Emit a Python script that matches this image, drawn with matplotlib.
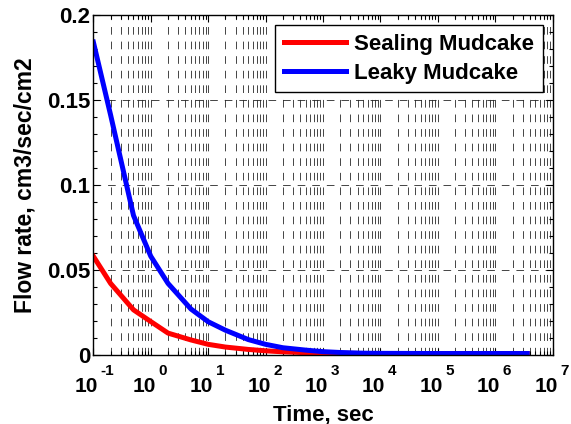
import math
import matplotlib
matplotlib.use("Agg")
import matplotlib.pyplot as plt
from matplotlib.ticker import FixedLocator, LogLocator, MultipleLocator, NullFormatter

plt.rcParams['font.family'] = ['Liberation Sans', 'DejaVu Sans']
plt.rcParams['font.weight'] = 'bold'
plt.rcParams['lines.scale_dashes'] = False

# time in seconds
time_s = [0.1, 0.2, 0.5, 1, 2, 5, 10, 20, 50, 100, 200, 500, 1000, 2000,
          5000, 1e4, 1e5, 1e6, 3.6e6]
sealing = [0.058, 0.042, 0.0265, 0.0196, 0.0128, 0.0088, 0.0062, 0.0046,
           0.0032, 0.0024, 0.0018, 0.0013, 0.0011, 0.0009, 0.0008, 0.0008,
           0.0008, 0.0008, 0.0008]
leaky = [0.184, 0.141, 0.082, 0.058, 0.042, 0.027, 0.0195, 0.0145, 0.009,
         0.0062, 0.0042, 0.0028, 0.0019, 0.0014, 0.0010, 0.0009, 0.0008,
         0.0008, 0.0008]
labels = ["Sealing Mudcake", "Leaky Mudcake"]
x_ticks = [1e-1, 1e0, 1e1, 1e2, 1e3, 1e4, 1e5, 1e6, 1e7]
y_ticks = [0, 0.05, 0.1, 0.15, 0.2]
y_labels = ["0", "0.05", "0.1", "0.15", "0.2"]

fig = plt.figure(figsize=(5.71, 4.24), dpi=100)
ax = fig.add_axes([0.1635, 0.163, 0.8045, 0.802])

ax.plot(time_s, sealing, color="red", lw=3.6, label=labels[0])
ax.plot(time_s, leaky, color="blue", lw=3.6, label=labels[1])

ax.set_xscale("log")
ax.set_xlim(0.1, 1e7)
ax.set_ylim(0, 0.2)

ax.xaxis.set_major_locator(FixedLocator(x_ticks))
ax.xaxis.set_minor_locator(LogLocator(base=10, subs=range(2, 10), numticks=200))
ax.xaxis.set_major_formatter(NullFormatter())
ax.xaxis.set_minor_formatter(NullFormatter())
ax.yaxis.set_major_locator(FixedLocator(y_ticks))
ax.set_yticklabels(y_labels)
ax.yaxis.set_minor_locator(MultipleLocator(0.01))

ax.tick_params(which="both", direction="in", top=True, right=True, width=0.8)
ax.tick_params(which="major", length=5)
ax.tick_params(which="minor", length=3)
ax.tick_params(axis="y", pad=2, labelsize=16)

# MATLAB style 10^n labels: base and exponent as separate texts
for v in x_ticks:
    ax.annotate("10", xy=(v, 0), xycoords=("data", "axes fraction"),
                xytext=(3.6, -26.6), textcoords="offset points",
                ha="right", va="baseline", fontsize=15, fontweight="bold")
    ax.annotate("%d" % round(math.log10(v)), xy=(v, 0),
                xycoords=("data", "axes fraction"),
                xytext=(5.4, -14.4), textcoords="offset points",
                ha="left", va="baseline", fontsize=11, fontweight="bold")

dash = (0, (5.5, 5))
ax.grid(True, which="major", axis="y", color="0.15", lw=0.6, linestyle=dash)
ax.grid(True, which="both", axis="x", color="0.15", lw=0.6, linestyle=dash)
ax.set_axisbelow(True)

for s in ax.spines.values():
    s.set_linewidth(1.0)

ax.set_xlabel("Time, sec", fontsize=16, fontweight="bold")
ax.xaxis.set_label_coords(0.5, -0.145)
ax.set_ylabel("Flow rate, cm3/sec/cm2", fontsize=16.5, fontweight="bold", labelpad=8)

leg = ax.legend(loc="upper right", fontsize=16, fancybox=False, framealpha=1,
                edgecolor="black", handlelength=2.8, borderaxespad=0.45,
                borderpad=0.4, labelspacing=0.35, handletextpad=0.35)
leg.get_frame().set_linewidth(1.0)

fig.savefig("out.png", dpi=100)
